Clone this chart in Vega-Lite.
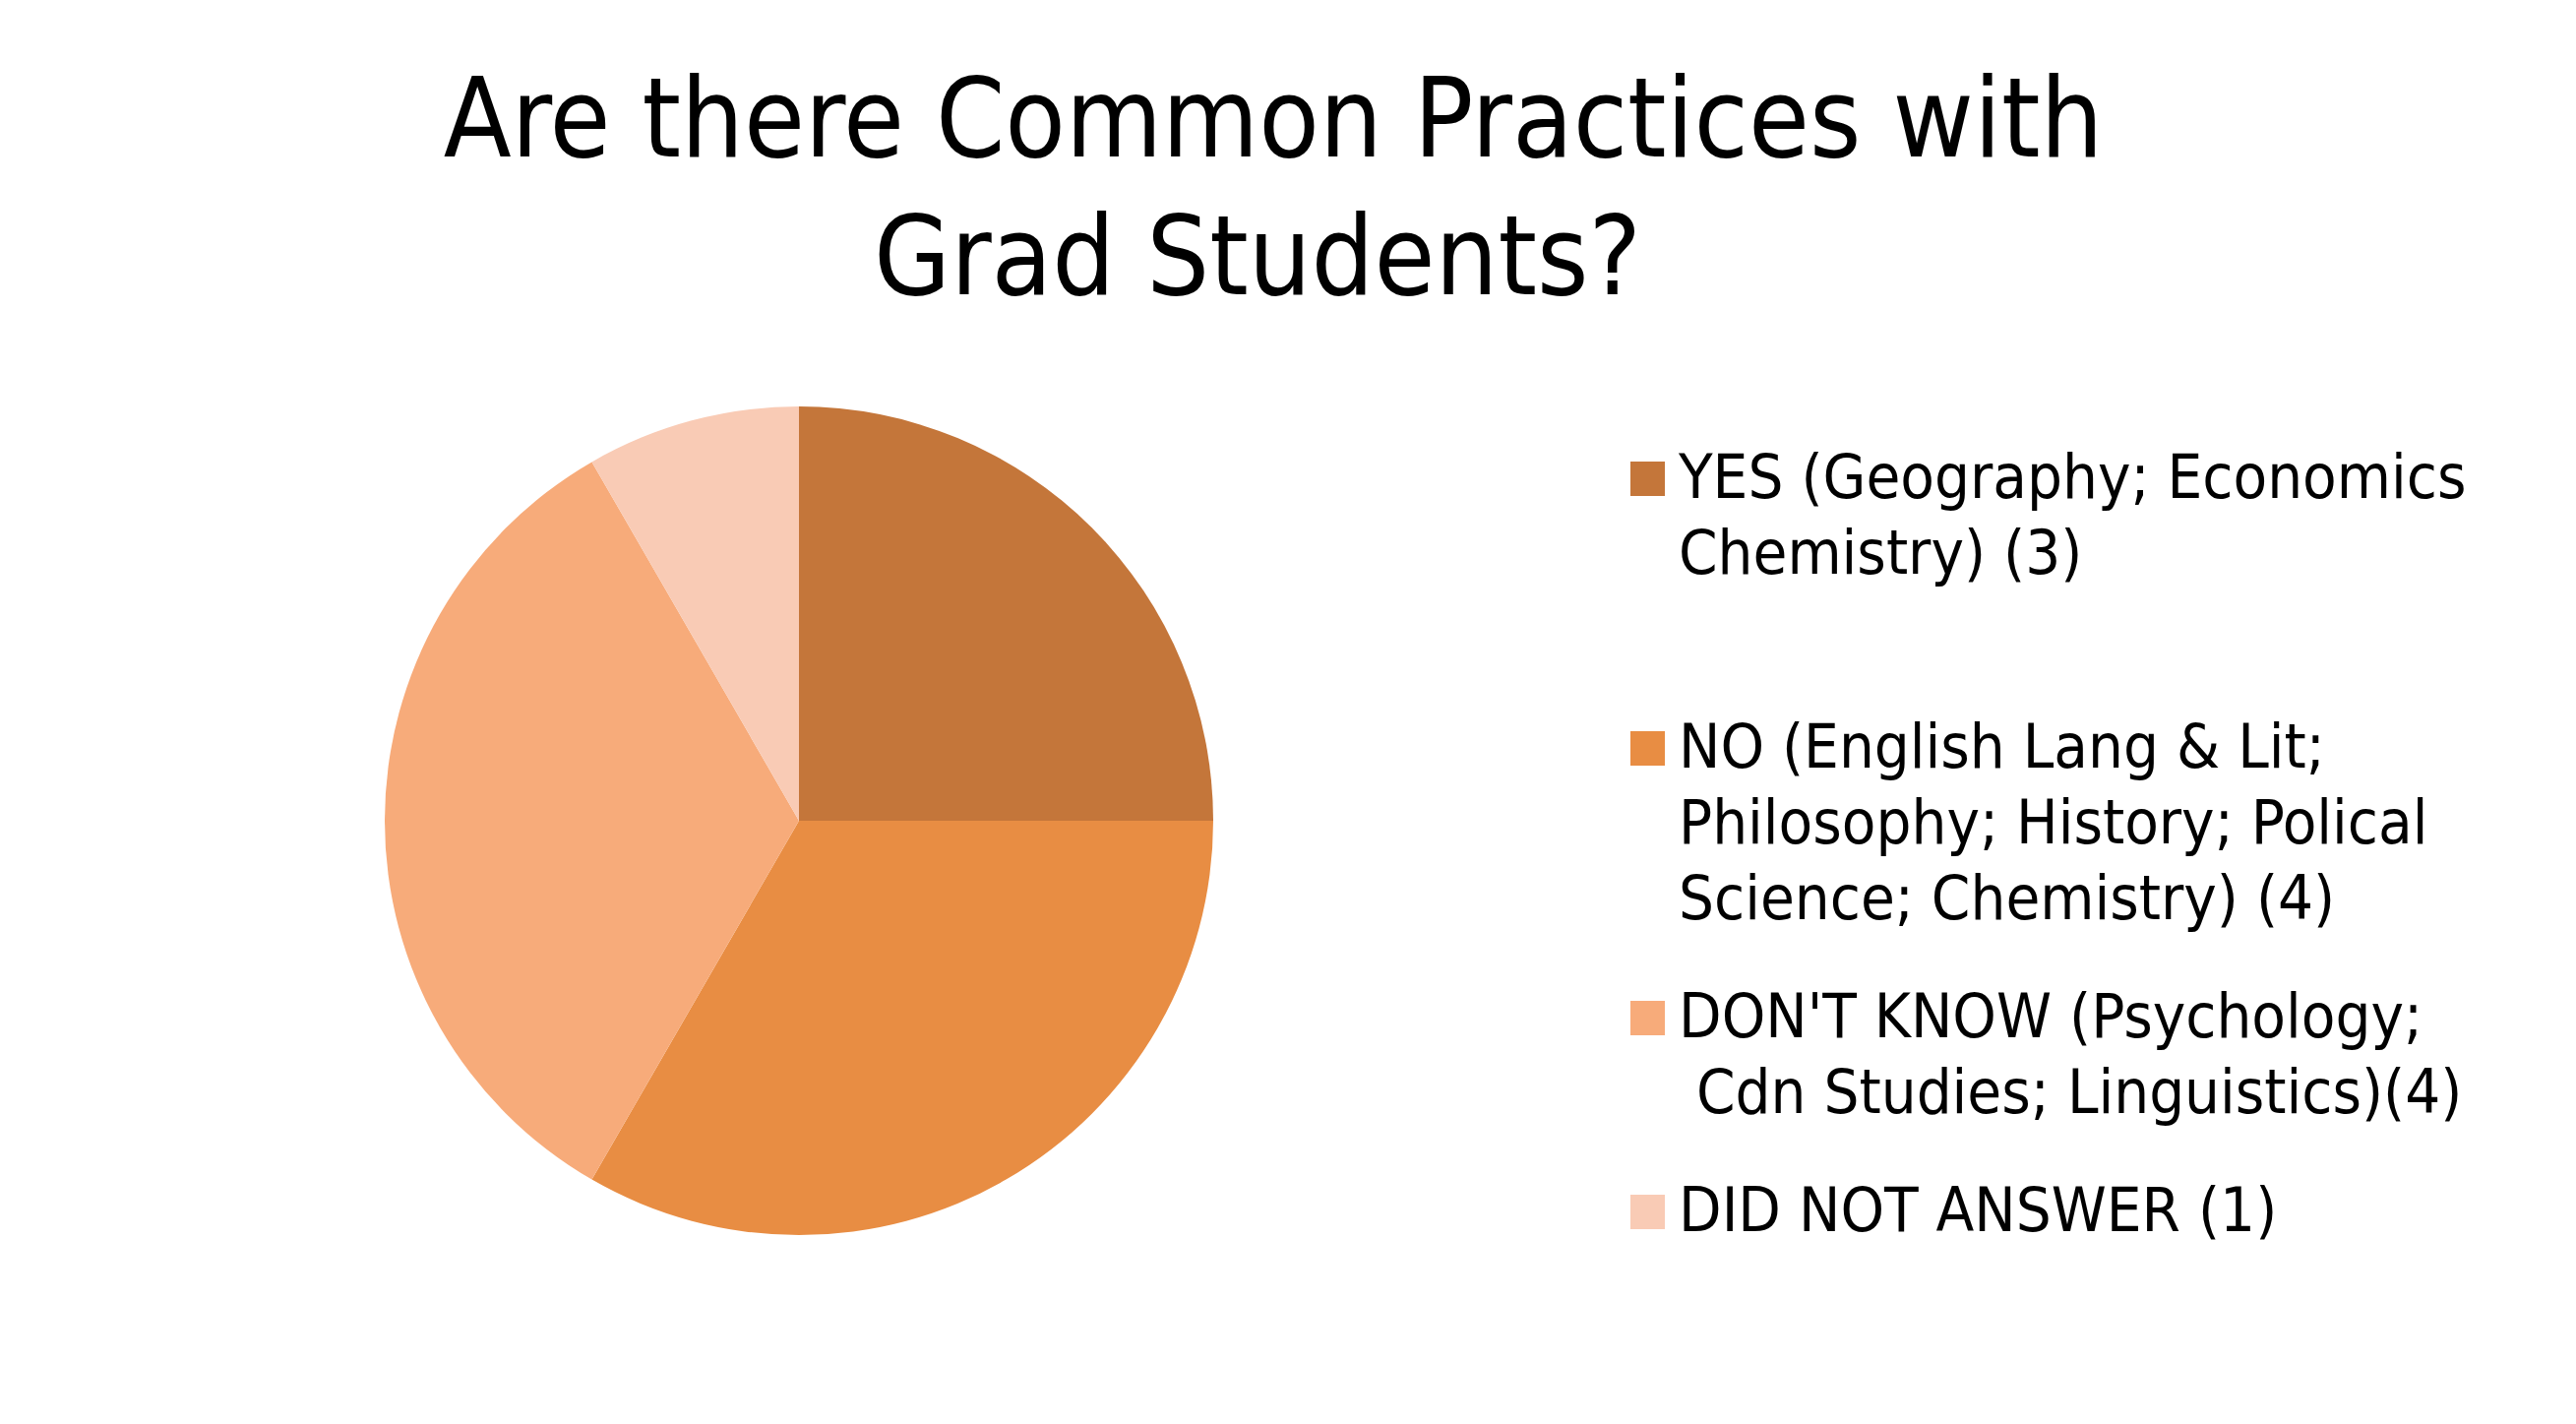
{
  "$schema": "https://vega.github.io/schema/vega-lite/v6.json",
  "autosize": "none",
  "width": 842,
  "height": 842,
  "padding": {"left": 391, "top": 413, "right": 1385, "bottom": 192},
  "background": "#ffffff",
  "title": {
    "text": ["Are there Common Practices with", "Grad Students?\u00a0\u200b"],
    "anchor": "middle",
    "frame": "group",
    "dx": 482,
    "offset": 90,
    "font": "DejaVu Sans Condensed",
    "fontSize": 112,
    "fontWeight": "normal",
    "lineHeight": 140,
    "color": "#000000"
  },
  "data": {
    "values": [
      {"answer": "YES", "label": "YES (Geography; Economics\nChemistry) (3)\n", "count": 3},
      {"answer": "NO", "label": "NO (English Lang & Lit;\nPhilosophy; History; Polical\nScience; Chemistry) (4)", "count": 4},
      {"answer": "DON'T KNOW", "label": "DON'T KNOW (Psychology;\n\u200b\u00a0Cdn Studies; Linguistics)(4)", "count": 4},
      {"answer": "DID NOT ANSWER", "label": "DID NOT ANSWER (1)", "count": 1}
    ]
  },
  "mark": {"type": "arc", "stroke": null},
  "encoding": {
    "theta": {"field": "count", "type": "quantitative", "stack": true},
    "order": {"field": "answer", "sort": "descending"},
    "color": {
      "field": "label",
      "type": "nominal",
      "scale": {
        "domain": [
          "YES (Geography; Economics\nChemistry) (3)\n",
          "NO (English Lang & Lit;\nPhilosophy; History; Polical\nScience; Chemistry) (4)",
          "DON'T KNOW (Psychology;\n\u200b\u00a0Cdn Studies; Linguistics)(4)",
          "DID NOT ANSWER (1)"
        ],
        "range": ["#C4763A", "#E88D43", "#F7AB7A", "#F9CBB5"]
      },
      "legend": {
        "title": null,
        "orient": "none",
        "legendX": 1252,
        "legendY": 42,
        "symbolType": "square",
        "symbolSize": 1225,
        "symbolStrokeWidth": 0,
        "labelExpr": "split(datum.label, '\\n')",
        "labelFont": "DejaVu Sans Condensed",
        "labelFontSize": 63,
        "labelColor": "#000000",
        "labelLimit": 2000,
        "labelOffset": 0,
        "labelBaseline": "middle",
        "rowPadding": 56
      }
    }
  },
  "config": {
    "view": {"stroke": null},
    "style": {"guide-label": {"lineHeight": 77}}
  }
}
